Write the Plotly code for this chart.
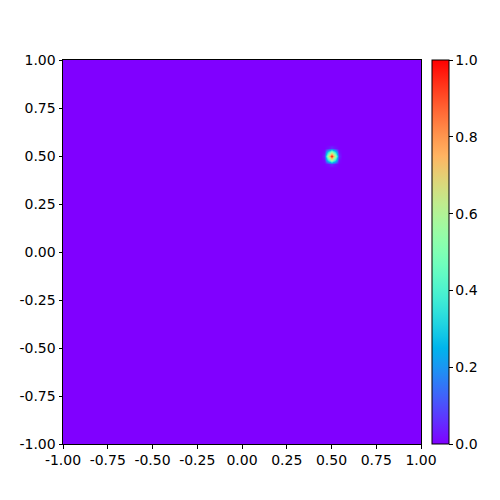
import numpy as np
import plotly.graph_objects as go

# Grid definition (nodes from -1 to 1 in steps of 0.02)
x_start = -1.0
x_step = 0.02
n_nodes = 101

# Blob values, centred on (0.5, 0.5)
blob_center = (0.5, 0.5)
blob_patch = [
    [0.00, 0.02, 0.06, 0.02, 0.00],
    [0.02, 0.35, 0.60, 0.35, 0.02],
    [0.06, 0.60, 1.00, 0.60, 0.06],
    [0.02, 0.35, 0.60, 0.35, 0.02],
    [0.00, 0.02, 0.06, 0.02, 0.00],
]

tick_vals = [-1.0, -0.75, -0.5, -0.25, 0.0, 0.25, 0.5, 0.75, 1.0]
cbar_ticks = [0.0, 0.2, 0.4, 0.6, 0.8, 1.0]

z = np.zeros((n_nodes, n_nodes))
ci = int(round((blob_center[1] - x_start) / x_step))
cj = int(round((blob_center[0] - x_start) / x_step))
p = np.array(blob_patch)
h = p.shape[0] // 2
z[ci - h:ci + h + 1, cj - h:cj + h + 1] = p

# matplotlib 'rainbow' colormap
def rainbow(t):
    r = min(1.0, abs(2 * t - 0.5))
    g = np.sin(np.pi * t)
    b = np.cos(np.pi * t / 2)
    return "rgb(%d,%d,%d)" % (round(r * 255), round(max(g, 0) * 255), round(max(b, 0) * 255))

cscale = [[i / 32, rainbow(i / 32)] for i in range(33)]

FONT = dict(family="DejaVu Sans", size=14, color="black")

fig = go.Figure(go.Heatmap(
    z=z, x0=x_start, dx=x_step, y0=x_start, dy=x_step,
    zmin=0, zmax=1, zsmooth="best", colorscale=cscale,
    colorbar=dict(
        x=1.0307, xanchor="left", xref="paper", y=0, yanchor="bottom", len=1, lenmode="fraction",
        xpad=0, ypad=0,
        thickness=17, thicknessmode="pixels", outlinewidth=1, outlinecolor="black",
        tickvals=cbar_ticks, ticktext=["%.1f" % v for v in cbar_ticks],
        ticks="outside", ticklen=3.5, tickwidth=0.8, tickcolor="black",
        tickfont=FONT,
    ),
))

axis_common = dict(
    range=[-1, 1], tickvals=tick_vals, ticktext=["%.2f" % v for v in tick_vals],
    showgrid=False, zeroline=False, showline=True, linecolor="black", linewidth=1, mirror=True,
    ticks="outside", ticklen=3.5, tickwidth=0.8, tickcolor="black", automargin=False,
    tickfont=FONT,
)
fig.update_xaxes(**axis_common)
fig.update_yaxes(**axis_common)

fig.update_layout(
    width=492, height=492,
    margin=dict(l=55, r=79, t=52, b=56),
    paper_bgcolor="white", plot_bgcolor="white",
    font=FONT,
)

fig.write_html("out.html")
